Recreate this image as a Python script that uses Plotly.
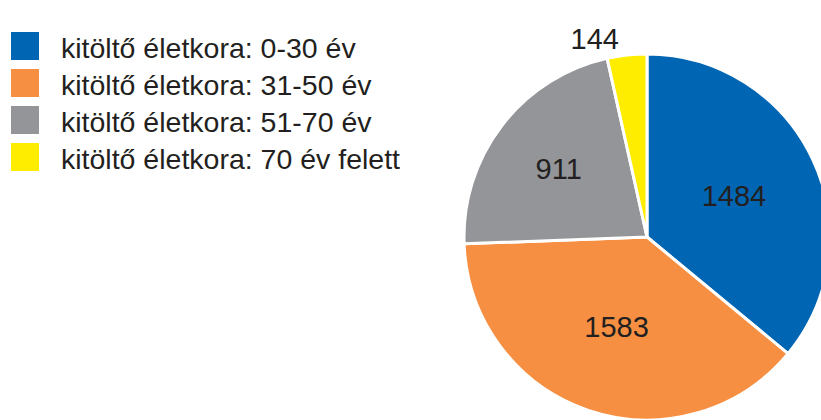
import plotly.graph_objects as go

labels = ["kitöltő életkora: 0-30 év", "kitöltő életkora: 31-50 év",
          "kitöltő életkora: 51-70 év", "kitöltő életkora: 70 év felett"]
values = [1484, 1583, 911, 144]
colors = ["#0066B3", "#F68F41", "#939598", "#FFED00"]
text_pos = ["inside", "inside", "inside", "outside"]

W, H = 840, 430
FONT = "Liberation Sans, Arial, sans-serif"

fig = go.Figure(go.Pie(
    labels=labels, values=values, sort=False, direction="clockwise", rotation=0,
    marker=dict(colors=colors, line=dict(color="white", width=3)),
    textinfo="value", textposition=text_pos, insidetextorientation="horizontal",
    textfont=dict(size=29, color="#231F20", family=FONT),
    outsidetextfont=dict(size=29, color="#231F20", family=FONT),
    domain=dict(x=[464 / W, 830 / W], y=[1 - 420 / H, 1 - 54 / H]),
    showlegend=False, hoverinfo="label+value",
))

# custom legend
for i, (lab, col) in enumerate(zip(labels, colors)):
    y0 = 32 + i * 37
    fig.add_shape(type="rect", xref="paper", yref="paper",
                  x0=11 / W, x1=39 / W, y0=1 - (y0 + 28) / H, y1=1 - y0 / H,
                  fillcolor=col, line=dict(width=0))
    fig.add_annotation(text=lab, xref="paper", yref="paper",
                       x=59 / W, y=1 - (y0 + 16) / H, xanchor="left", yanchor="middle",
                       showarrow=False, font=dict(size=28.5, color="#231F20", family=FONT))

fig.update_layout(width=W, height=H, margin=dict(l=0, r=0, t=0, b=0),
                  paper_bgcolor="white", plot_bgcolor="white")

fig.write_html("out.html", config={"displayModeBar": False},
               post_script="document.body.style.margin='0';document.body.style.overflow='hidden';document.documentElement.style.overflow='hidden';")
